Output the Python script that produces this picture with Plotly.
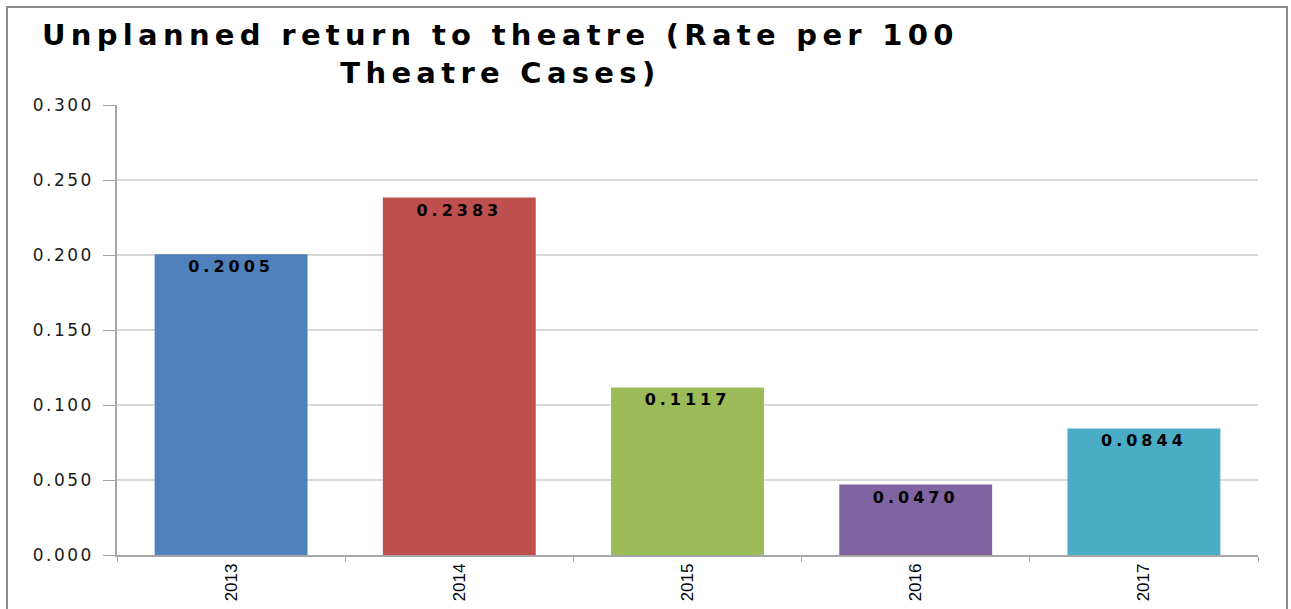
import plotly.graph_objects as go

years = ["2013", "2014", "2015", "2016", "2017"]
rates = [0.2005, 0.2383, 0.1117, 0.0470, 0.0844]
bar_colors = ["#4F81BD", "#C0504D", "#9BBB59", "#8064A2", "#4BACC6"]
rate_labels = ["0.2005", "0.2383", "0.1117", "0.0470", "0.0844"]
y_ticks = [0.0, 0.05, 0.10, 0.15, 0.20, 0.25, 0.30]
y_tick_text = ["0.000", "0.050", "0.100", "0.150", "0.200", "0.250", "0.300"]

titulo_1 = "Unplanned return to theatre (Rate per 100"
titulo_2 = "Theatre Cases)"


def espaciado(txt, px):
    return '<span style="letter-spacing:%spx">%s</span>' % (px, txt)


fig = go.Figure()

fig.add_trace(go.Bar(
    x=years, y=rates,
    marker=dict(color=bar_colors, line=dict(width=0)),
    text=[espaciado(t, 4) for t in rate_labels],
    textposition="inside",
    insidetextanchor="end",
    textangle=0,
    textfont=dict(family="DejaVu Sans", size=16, color="black", weight="bold"),
    width=0.67,
))

fig.update_layout(
    width=1291, height=609,
    margin=dict(l=117, r=33, t=105, b=54),
    paper_bgcolor="white", plot_bgcolor="white",
    showlegend=False,
    yaxis=dict(
        range=[0, 0.3], tickvals=y_ticks, ticktext=[espaciado(t, 2.5) for t in y_tick_text],
        showgrid=True, gridcolor="#D9D9D9", gridwidth=1.5,
        showline=True, linecolor="#A6A6A6", linewidth=1.5,
        ticks="outside", ticklen=12, tickcolor="#A6A6A6",
        ticklabelstandoff=6,
        tickfont=dict(family="DejaVu Sans", size=17, color="#1a1a1a"),
        zeroline=False, automargin=False,
    ),
    xaxis=dict(
        showline=True, linecolor="#A6A6A6", linewidth=1.5,
        ticks="outside", ticklen=5, tickcolor="#A6A6A6", tickson="boundaries",
        tickangle=-90,
        tickfont=dict(family="Liberation Sans Narrow, Arial Narrow, sans-serif", size=17, color="black"),
        automargin=False,
    ),
    bargap=0.33,
)

fig.add_annotation(
    text="<b>" + espaciado(titulo_1, 5.3) + "<br>" + espaciado(titulo_2, 5.3) + "</b>",
    xref="paper", yref="paper",
    x=(500 - 117) / 1141, y=(555 - 54) / 450,
    xanchor="center", yanchor="middle",
    showarrow=False,
    font=dict(family="DejaVu Sans", size=29, color="black"),
)

# marco gris alrededor del grafico
fig.add_shape(
    type="rect", xref="paper", yref="paper",
    x0=(7 - 117) / 1141, x1=(1287 - 117) / 1141,
    y0=-0.3, y1=(555 - 7) / 450,
    line=dict(color="#8C8C8C", width=2), fillcolor="rgba(0,0,0,0)",
    layer="below",
)

# quitar el margen por defecto del body para que la figura quede en (0,0)
fig.write_html("out.html", config={"displayModeBar": False},
               post_script="document.body.style.margin='0';")
